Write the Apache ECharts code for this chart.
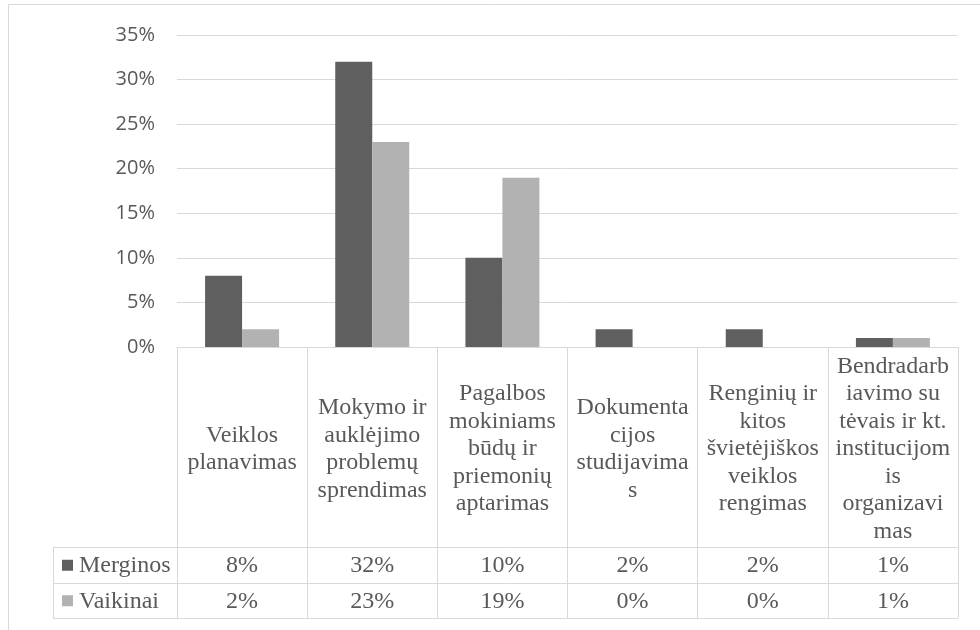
<!DOCTYPE html>
<html>
<head>
<meta charset="utf-8">
<script src="https://cdn.jsdelivr.net/npm/echarts@6/dist/echarts.min.js"></script>
<style>
html, body { margin: 0; padding: 0; background: #fff; }
#chart { width: 980px; height: 630px; }
</style>
</head>
<body>
<div id="chart"></div>
<script>
// data
var categories = [
  'Veiklos planavimas',
  'Mokymo ir auklėjimo problemų sprendimas',
  'Pagalbos mokiniams būdų ir priemonių aptarimas',
  'Dokumentacijos studijavimas',
  'Renginių ir kitos švietėjiškos veiklos rengimas',
  'Bendradarbiavimo su tėvais ir kt. institucijomis organizavimas'
]
// tick labels as they are wrapped in the picture
var categoryLabels = [
  'Veiklos\nplanavimas',
  'Mokymo ir\nauklėjimo\nproblemų\nsprendimas',
  'Pagalbos\nmokiniams\nbūdų ir\npriemonių\naptarimas',
  'Dokumenta\ncijos\nstudijavima\ns',
  'Renginių ir\nkitos\nšvietėjiškos\nveiklos\nrengimas',
  'Bendradarb\niavimo su\ntėvais ir kt.\ninstitucijom\nis\norganizavi\nmas'
]
var seriesNames = ['Merginos', 'Vaikinai']
var merginos = [8, 32, 10, 2, 2, 1]
var vaikinai = [2, 23, 19, 0, 0, 1]
var colors = ['#5f5f5f', '#b2b2b2']

var gridTop = 35
var gridBottomY = 347
var headerBottom = 547
var rowH = 35.5
var legendLeft = 53
var serif = 'Liberation Serif'
var tableFontSize = 24
var textColor = '#595959'
var lineColor = '#d9d9d9'

var myChart = echarts.init(document.getElementById('chart'))

var option = {
  animation: false,
  color: colors,
  grid: {
    left: 177,
    right: 22,
    top: gridTop,
    height: gridBottomY - gridTop
  },
  xAxis: {
    type: 'category',
    data: categories,
    axisLine: { lineStyle: { color: lineColor, width: 1 } },
    axisTick: {
      show: true,
      interval: 0,
      alignWithLabel: false,
      length: headerBottom + rowH * 2 - gridBottomY,
      lineStyle: { color: lineColor }
    },
    axisLabel: {
      interval: 0,
      margin: (headerBottom - gridBottomY) / 2 + 2,
      verticalAlign: 'middle',
      align: 'center',
      fontFamily: serif,
      fontSize: tableFontSize,
      lineHeight: 27.5,
      color: textColor,
      formatter: function (value, idx) {
        return categoryLabels[idx]
      }
    }
  },
  yAxis: {
    type: 'value',
    min: 0,
    max: 35,
    interval: 5,
    axisLine: { show: false },
    axisTick: { show: false },
    splitLine: { lineStyle: { color: lineColor, width: 1 } },
    axisLabel: {
      formatter: '{value}%',
      fontFamily: 'Open Sans',
      fontSize: 20,
      color: textColor,
      margin: 22
    }
  },
  series: [{
    name: seriesNames[0],
    type: 'bar',
    barWidth: 37,
    barGap: '0%',
    data: merginos
  }, {
    name: seriesNames[1],
    type: 'bar',
    barWidth: 37,
    barGap: '0%',
    data: vaikinai
  }]
}
myChart.setOption(option)

// data table under the axis
function buildTable() {
  var g = []
  var rightX = 980 - 22
  // outer chart frame
  g.push({
    type: 'rect',
    shape: { x: 8.5, y: 4.5, width: 1000, height: 700 },
    style: { fill: 'none', stroke: lineColor, lineWidth: 1 },
    silent: true
  })
  var rows = [merginos, vaikinai]
  for (var r = 0; r <= 2; r++) {
    var y = Math.round(headerBottom + rowH * r) + 0.5
    g.push({
      type: 'line',
      shape: { x1: legendLeft, y1: y, x2: rightX, y2: y },
      style: { stroke: lineColor, lineWidth: 1 },
      silent: true
    })
  }
  g.push({
    type: 'line',
    shape: { x1: legendLeft + 0.5, y1: headerBottom, x2: legendLeft + 0.5, y2: headerBottom + rowH * 2 },
    style: { stroke: lineColor, lineWidth: 1 },
    silent: true
  })
  for (var s = 0; s < rows.length; s++) {
    var cy = headerBottom + rowH * s + rowH / 2 + 1
    g.push({
      type: 'rect',
      shape: { x: 62, y: cy - 6, width: 11, height: 11 },
      style: { fill: colors[s] },
      silent: true
    })
    g.push({
      type: 'text',
      x: 79,
      y: cy,
      style: {
        text: seriesNames[s],
        fontFamily: serif,
        fontSize: tableFontSize,
        fill: textColor,
        verticalAlign: 'middle',
        align: 'left'
      },
      silent: true
    })
    for (var i = 0; i < categories.length; i++) {
      var cx = myChart.convertToPixel({ xAxisIndex: 0 }, i)
      g.push({
        type: 'text',
        x: cx,
        y: cy,
        style: {
          text: rows[s][i] + '%',
          fontFamily: serif,
          fontSize: tableFontSize,
          fill: textColor,
          align: 'center',
          verticalAlign: 'middle'
        },
        silent: true
      })
    }
  }
  myChart.setOption({ graphic: g })
}
buildTable()
</script>
</body>
</html>
